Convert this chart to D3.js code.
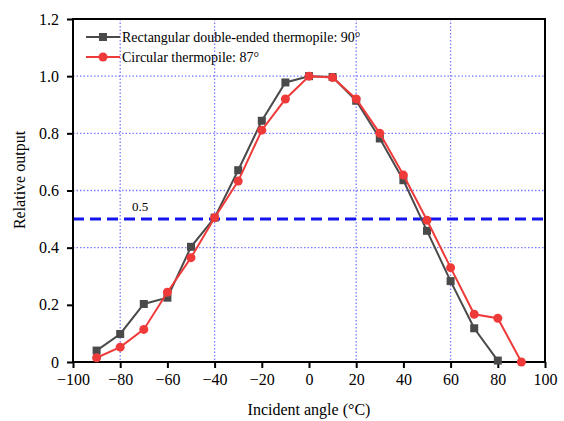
<!DOCTYPE html>
<html>
<head>
<meta charset="utf-8">
<script src="https://cdn.jsdelivr.net/npm/d3@7"></script>
<style>
  body { margin: 0; background: #fff; }
  svg text { font-family: "Liberation Serif", "Times New Roman", "DejaVu Serif", serif; }
</style>
</head>
<body>
<div id="chart"></div>
<script>
// data
const rectAngles = [-90, -80, -70, -60, -50, -40, -30, -20, -10, 0, 10, 20, 30, 40, 50, 60, 70, 80];
const rectOutput = [0.04, 0.098, 0.203, 0.225, 0.403, 0.505, 0.671, 0.844, 0.978, 1.0, 0.997, 0.914, 0.782, 0.636, 0.459, 0.283, 0.118, 0.005];
const circAngles = [-90, -80, -70, -60, -50, -40, -30, -20, -10, 0, 10, 20, 30, 40, 50, 60, 70, 80, 90];
const circOutput = [0.015, 0.052, 0.114, 0.244, 0.365, 0.505, 0.633, 0.811, 0.92, 1.0, 0.995, 0.92, 0.80, 0.654, 0.496, 0.33, 0.167, 0.153, 0.0];
const legendLabels = ["Rectangular double-ended thermopile: 90°", "Circular thermopile: 87°"];
const xTicks = [-100, -80, -60, -40, -20, 0, 20, 40, 60, 80, 100];
const yTicks = [0, 0.2, 0.4, 0.6, 0.8, 1.0, 1.2];
const xGrid = [-80, -40, 20, 60];
const yGrid = [0.4, 0.6, 0.8, 1.0];
const halfLevel = 0.5;

const width = 564, height = 421;
const margin = {top: 19, right: 19, bottom: 59, left: 73};
const serif = "Liberation Serif, Times New Roman, serif";

const svg = d3.select("#chart").append("svg")
  .attr("width", width)
  .attr("height", height);

const x = d3.scaleLinear().domain([-100, 100]).range([margin.left, width - margin.right]);
const y = d3.scaleLinear().domain([0, 1.2]).range([height - margin.bottom, margin.top]);

// grid
const grid = svg.append("g")
  .attr("stroke", "#7b7bff")
  .attr("stroke-width", 1.3)
  .attr("stroke-dasharray", "1.5,2");
grid.selectAll(".vg").data(xGrid).enter().append("line")
  .attr("x1", d => x(d)).attr("x2", d => x(d))
  .attr("y1", y(1.2)).attr("y2", y(0));
grid.selectAll(".hg").data(yGrid).enter().append("line")
  .attr("x1", x(-100)).attr("x2", x(100))
  .attr("y1", d => y(d)).attr("y2", d => y(d));

// 0.5 reference line
svg.append("line")
  .attr("x1", x(-100)).attr("x2", x(100))
  .attr("y1", y(halfLevel)).attr("y2", y(halfLevel))
  .attr("stroke", "#1414ee")
  .attr("stroke-width", 3)
  .attr("stroke-dasharray", "11,6");
svg.append("text")
  .attr("x", x(-75)).attr("y", y(halfLevel) - 8)
  .attr("font-family", serif)
  .style("font-size", "13px")
  .text("0.5");

// axes
const xAxis = svg.append("g")
  .attr("transform", `translate(0,${y(0)})`)
  .call(d3.axisBottom(x).tickValues(xTicks).tickSize(6).tickPadding(6)
    .tickFormat(d => String(d).replace("-", "\u2212")));
const yAxis = svg.append("g")
  .attr("transform", `translate(${x(-100)},0)`)
  .call(d3.axisLeft(y).tickValues(yTicks).tickSize(6).tickPadding(8)
    .tickFormat(d => d === 0 ? "0" : d.toFixed(1)));
[xAxis, yAxis].forEach(a => {
  a.attr("font-family", serif).attr("font-size", 16);
  a.select(".domain").remove();
  a.selectAll(".tick line").attr("stroke", "#000").attr("stroke-width", 2);
  a.selectAll("text").attr("fill", "#000");
});

// frame
svg.append("rect")
  .attr("x", x(-100)).attr("y", y(1.2))
  .attr("width", x(100) - x(-100)).attr("height", y(0) - y(1.2))
  .attr("fill", "none").attr("stroke", "#000").attr("stroke-width", 2);

// axis titles
svg.append("text")
  .attr("x", x(0)).attr("y", 415)
  .attr("text-anchor", "middle")
  .attr("font-family", serif)
  .style("font-size", "16px")
  .text("Incident angle (°C)");
svg.append("text")
  .attr("transform", "translate(25,180) rotate(-90)")
  .attr("text-anchor", "middle")
  .attr("font-family", serif)
  .style("font-size", "16px")
  .text("Relative output");

// series
const line = d3.line().x(d => x(d[0])).y(d => y(d[1]));
const rectData = rectAngles.map((a, i) => [a, rectOutput[i]]);
const circData = circAngles.map((a, i) => [a, circOutput[i]]);
const grey = "#4a4a4a", red = "#f03a3a";

svg.append("path").datum(rectData)
  .attr("d", line).attr("fill", "none").attr("stroke", grey).attr("stroke-width", 2);
svg.selectAll(".sq").data(rectData).enter().append("rect")
  .attr("x", d => x(d[0]) - 4).attr("y", d => y(d[1]) - 4)
  .attr("width", 8).attr("height", 8).attr("fill", grey);

svg.append("path").datum(circData)
  .attr("d", line).attr("fill", "none").attr("stroke", red).attr("stroke-width", 2);
svg.selectAll(".ci").data(circData).enter().append("circle")
  .attr("cx", d => x(d[0])).attr("cy", d => y(d[1])).attr("r", 4.5).attr("fill", red);

// legend
const leg = svg.append("g");
const legY = [37, 57];
const legColors = [grey, red];
legendLabels.forEach((lab, i) => {
  leg.append("line").attr("x1", 86).attr("x2", 120).attr("y1", legY[i]).attr("y2", legY[i])
    .attr("stroke", legColors[i]).attr("stroke-width", 2);
  if (i === 0) {
    leg.append("rect").attr("x", 99).attr("y", legY[i] - 4).attr("width", 8).attr("height", 8).attr("fill", grey);
  } else {
    leg.append("circle").attr("cx", 103).attr("cy", legY[i]).attr("r", 4.5).attr("fill", red);
  }
  leg.append("text").attr("x", 122).attr("y", legY[i] + 4.5)
    .attr("font-family", serif)
    .style("font-size", "14px").text(lab);
});
</script>
</body>
</html>
